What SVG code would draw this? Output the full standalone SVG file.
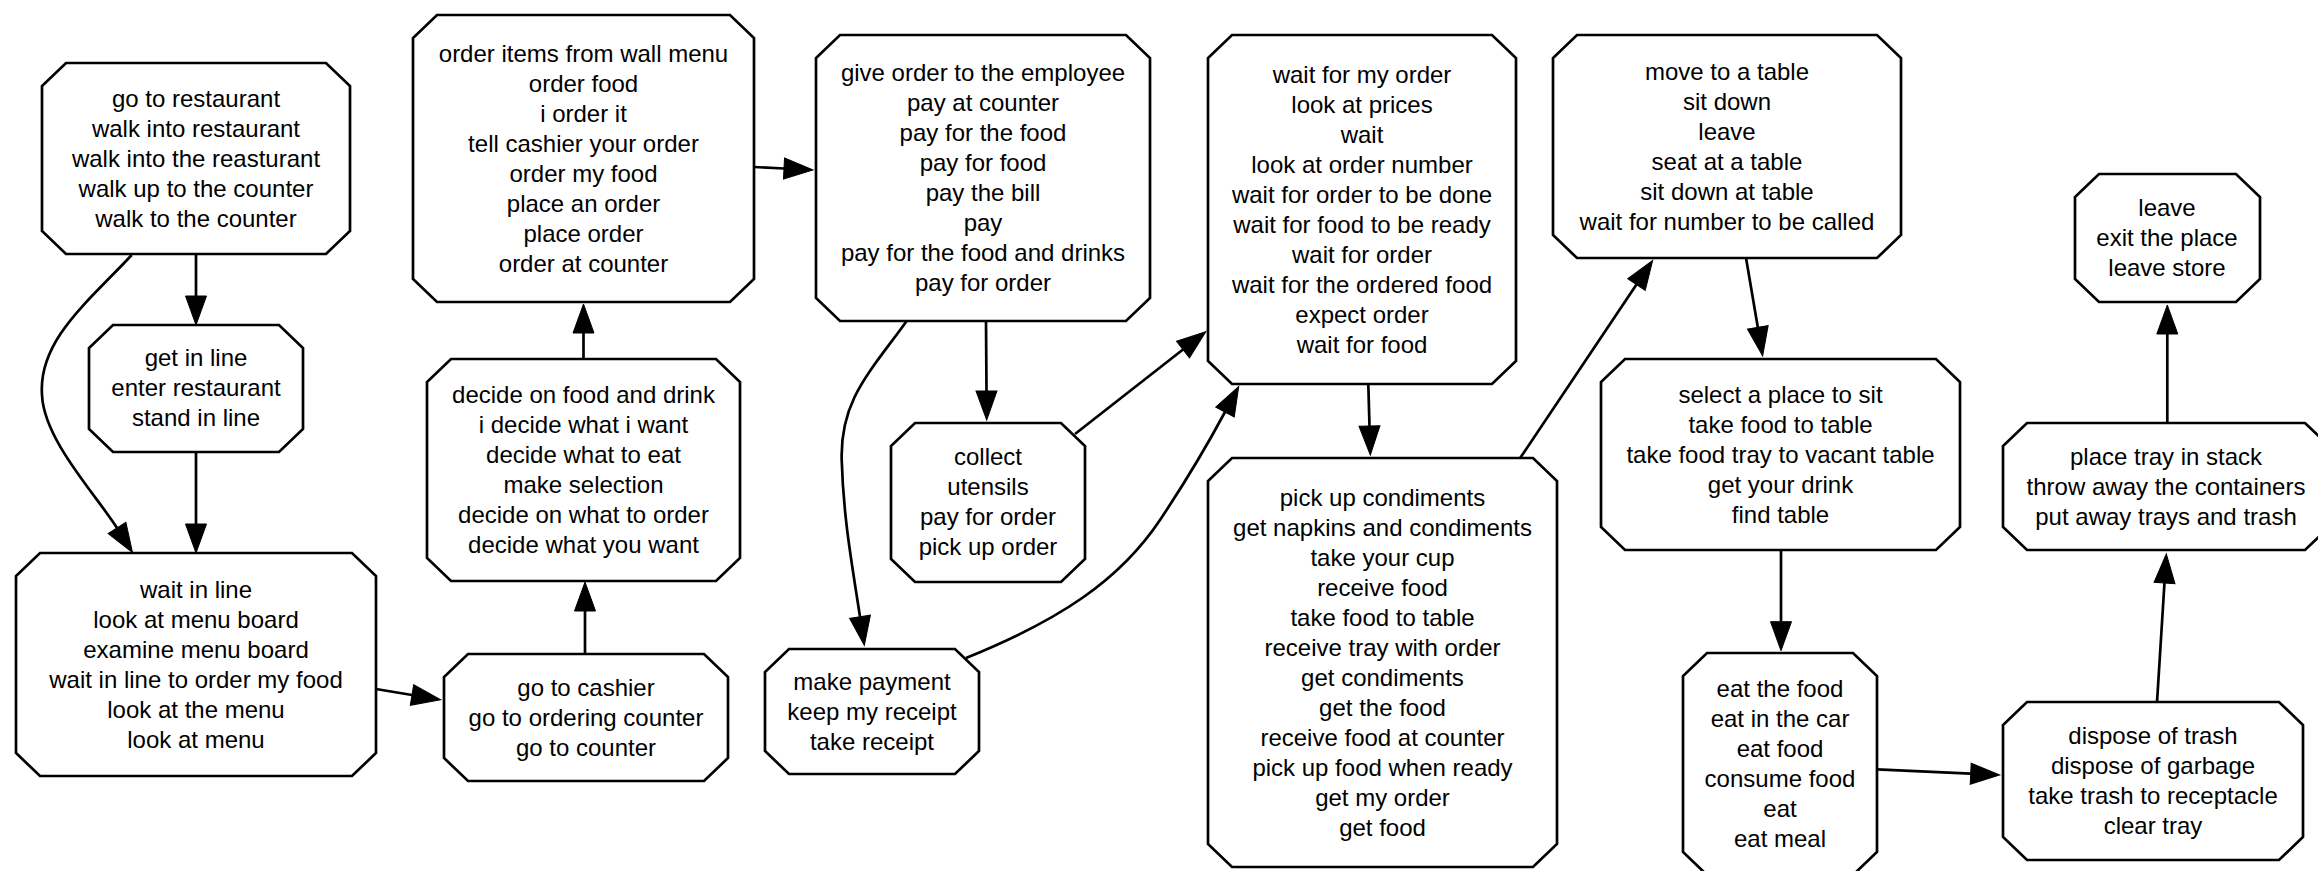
<svg xmlns="http://www.w3.org/2000/svg" width="2318" height="871" viewBox="0 0 2318 871">
<defs>
<style>
.node polygon{fill:#ffffff;stroke:#000000;stroke-width:2.7}
.node text{font-family:"Liberation Sans",Arial,Helvetica,sans-serif;font-size:24px;fill:#000000;text-anchor:middle}
.edges path{fill:none;stroke:#000000;stroke-width:2.7;marker-end:url(#arr)}
</style>
<marker id="arr" markerUnits="userSpaceOnUse" viewBox="0 -11 30 22" refX="0" refY="0" markerWidth="30" markerHeight="22" orient="auto" overflow="visible">
<path d="M0,-10.5 L29,0 L0,10.5 Z" fill="#000000" stroke="#000000" stroke-width="1"/>
</marker>
</defs>
<rect width="2318" height="871" fill="#ffffff"/>
<g class="edges">
<path d="M196,254 L196,296"/>
<path d="M131.7,255 C 90,300 38,340 42,395 C 44,440 95.5,494 117,528"/>
<path d="M196,452 L196,524"/>
<path d="M376,689 L412,695"/>
<path d="M585,654 L585,611"/>
<path d="M583.5,359 L583.5,333"/>
<path d="M754,167 L784,168.5"/>
<path d="M986,321 L986.5,391"/>
<path d="M906.7,321 C 870,372 840,400 841.7,460 C 843.5,520 852.5,567 860,616.7"/>
<path d="M1075,434 L1183,349.5"/>
<path d="M966,658 C 1060,620 1120,580 1160,520 C 1190,475 1210,440 1225,412"/>
<path d="M1368.3,384 L1369.5,426"/>
<path d="M1520,458.3 L1636.5,284.5"/>
<path d="M1746,257.7 L1757.8,327.3"/>
<path d="M1781,550 L1781,621.7"/>
<path d="M1876.7,769.3 L1970.7,773.7"/>
<path d="M2157,702 L2164.5,583"/>
<path d="M2167.3,422.7 L2167.3,334"/>
</g>
<g id="n1" class="node"><polygon points="66,63 326,63 350,86 350,231 326,254 66,254 42,231 42,86"/>
<text x="196" y="106.7"><tspan x="196">go to restaurant</tspan><tspan x="196" dy="30">walk into restaurant</tspan><tspan x="196" dy="30">walk into the reasturant</tspan><tspan x="196" dy="30">walk up to the counter</tspan><tspan x="196" dy="30">walk to the counter</tspan></text></g>
<g id="n2" class="node"><polygon points="113,325 279,325 303,348 303,429 279,452 113,452 89,429 89,348"/>
<text x="196" y="366"><tspan x="196">get in line</tspan><tspan x="196" dy="30">enter restaurant</tspan><tspan x="196" dy="30">stand in line</tspan></text></g>
<g id="n3" class="node"><polygon points="40,553 352,553 376,576 376,753 352,776 40,776 16,753 16,576"/>
<text x="196" y="597.5"><tspan x="196">wait in line</tspan><tspan x="196" dy="30">look at menu board</tspan><tspan x="196" dy="30">examine menu board</tspan><tspan x="196" dy="30">wait in line to order my food</tspan><tspan x="196" dy="30">look at the menu</tspan><tspan x="196" dy="30">look at menu</tspan></text></g>
<g id="n4" class="node"><polygon points="468,654 704,654 728,677 728,758 704,781 468,781 444,758 444,677"/>
<text x="586" y="695.5"><tspan x="586">go to cashier</tspan><tspan x="586" dy="30">go to ordering counter</tspan><tspan x="586" dy="30">go to counter</tspan></text></g>
<g id="n5" class="node"><polygon points="451,359 716,359 740,382 740,558 716,581 451,581 427,558 427,382"/>
<text x="583.5" y="403"><tspan x="583.5">decide on food and drink</tspan><tspan x="583.5" dy="30">i decide what i want</tspan><tspan x="583.5" dy="30">decide what to eat</tspan><tspan x="583.5" dy="30">make selection</tspan><tspan x="583.5" dy="30">decide on what to order</tspan><tspan x="583.5" dy="30">decide what you want</tspan></text></g>
<g id="n6" class="node"><polygon points="437,15 730,15 754,38 754,279 730,302 437,302 413,279 413,38"/>
<text x="583.5" y="61.5"><tspan x="583.5">order items from wall menu</tspan><tspan x="583.5" dy="30">order food</tspan><tspan x="583.5" dy="30">i order it</tspan><tspan x="583.5" dy="30">tell cashier your order</tspan><tspan x="583.5" dy="30">order my food</tspan><tspan x="583.5" dy="30">place an order</tspan><tspan x="583.5" dy="30">place order</tspan><tspan x="583.5" dy="30">order at counter</tspan></text></g>
<g id="n7" class="node"><polygon points="840,35 1126,35 1150,58 1150,298 1126,321 840,321 816,298 816,58"/>
<text x="983" y="81"><tspan x="983">give order to the employee</tspan><tspan x="983" dy="30">pay at counter</tspan><tspan x="983" dy="30">pay for the food</tspan><tspan x="983" dy="30">pay for food</tspan><tspan x="983" dy="30">pay the bill</tspan><tspan x="983" dy="30">pay</tspan><tspan x="983" dy="30">pay for the food and drinks</tspan><tspan x="983" dy="30">pay for order</tspan></text></g>
<g id="n8" class="node"><polygon points="915,423 1061,423 1085,446 1085,559 1061,582 915,582 891,559 891,446"/>
<text x="988" y="465"><tspan x="988">collect</tspan><tspan x="988" dy="30">utensils</tspan><tspan x="988" dy="30">pay for order</tspan><tspan x="988" dy="30">pick up order</tspan></text></g>
<g id="n9" class="node"><polygon points="789,649 955,649 979,672 979,751 955,774 789,774 765,751 765,672"/>
<text x="872" y="689.5"><tspan x="872">make payment</tspan><tspan x="872" dy="30">keep my receipt</tspan><tspan x="872" dy="30">take receipt</tspan></text></g>
<g id="n10" class="node"><polygon points="1232,35 1492,35 1516,58 1516,361 1492,384 1232,384 1208,361 1208,58"/>
<text x="1362" y="82.5"><tspan x="1362">wait for my order</tspan><tspan x="1362" dy="30">look at prices</tspan><tspan x="1362" dy="30">wait</tspan><tspan x="1362" dy="30">look at order number</tspan><tspan x="1362" dy="30">wait for order to be done</tspan><tspan x="1362" dy="30">wait for food to be ready</tspan><tspan x="1362" dy="30">wait for order</tspan><tspan x="1362" dy="30">wait for the ordered food</tspan><tspan x="1362" dy="30">expect order</tspan><tspan x="1362" dy="30">wait for food</tspan></text></g>
<g id="n11" class="node"><polygon points="1232,458 1533,458 1557,481 1557,844 1533,867 1232,867 1208,844 1208,481"/>
<text x="1382.5" y="506"><tspan x="1382.5">pick up condiments</tspan><tspan x="1382.5" dy="30">get napkins and condiments</tspan><tspan x="1382.5" dy="30">take your cup</tspan><tspan x="1382.5" dy="30">receive food</tspan><tspan x="1382.5" dy="30">take food to table</tspan><tspan x="1382.5" dy="30">receive tray with order</tspan><tspan x="1382.5" dy="30">get condiments</tspan><tspan x="1382.5" dy="30">get the food</tspan><tspan x="1382.5" dy="30">receive food at counter</tspan><tspan x="1382.5" dy="30">pick up food when ready</tspan><tspan x="1382.5" dy="30">get my order</tspan><tspan x="1382.5" dy="30">get food</tspan></text></g>
<g id="n12" class="node"><polygon points="1577,35 1877,35 1901,58 1901,235 1877,258 1577,258 1553,235 1553,58"/>
<text x="1727" y="79.5"><tspan x="1727">move to a table</tspan><tspan x="1727" dy="30">sit down</tspan><tspan x="1727" dy="30">leave</tspan><tspan x="1727" dy="30">seat at a table</tspan><tspan x="1727" dy="30">sit down at table</tspan><tspan x="1727" dy="30">wait for number to be called</tspan></text></g>
<g id="n13" class="node"><polygon points="1625,359 1936,359 1960,382 1960,527 1936,550 1625,550 1601,527 1601,382"/>
<text x="1780.5" y="402.7"><tspan x="1780.5">select a place to sit</tspan><tspan x="1780.5" dy="30">take food to table</tspan><tspan x="1780.5" dy="30">take food tray to vacant table</tspan><tspan x="1780.5" dy="30">get your drink</tspan><tspan x="1780.5" dy="30">find table</tspan></text></g>
<g id="n14" class="node"><polygon points="1707,653 1853,653 1877,676 1877,852 1853,875 1707,875 1683,852 1683,676"/>
<text x="1780" y="697.3"><tspan x="1780">eat the food</tspan><tspan x="1780" dy="30">eat in the car</tspan><tspan x="1780" dy="30">eat food</tspan><tspan x="1780" dy="30">consume food</tspan><tspan x="1780" dy="30">eat</tspan><tspan x="1780" dy="30">eat meal</tspan></text></g>
<g id="n15" class="node"><polygon points="2027,702 2279,702 2303,725 2303,837 2279,860 2027,860 2003,837 2003,725"/>
<text x="2153" y="744.3"><tspan x="2153">dispose of trash</tspan><tspan x="2153" dy="30">dispose of garbage</tspan><tspan x="2153" dy="30">take trash to receptacle</tspan><tspan x="2153" dy="30">clear tray</tspan></text></g>
<g id="n16" class="node"><polygon points="2027,423 2305,423 2329,446 2329,527 2305,550 2027,550 2003,527 2003,446"/>
<text x="2166" y="464.5"><tspan x="2166">place tray in stack</tspan><tspan x="2166" dy="30">throw away the containers</tspan><tspan x="2166" dy="30">put away trays and trash</tspan></text></g>
<g id="n17" class="node"><polygon points="2099,174 2236,174 2260,197 2260,279 2236,302 2099,302 2075,279 2075,197"/>
<text x="2167" y="216"><tspan x="2167">leave</tspan><tspan x="2167" dy="30">exit the place</tspan><tspan x="2167" dy="30">leave store</tspan></text></g>
</svg>
